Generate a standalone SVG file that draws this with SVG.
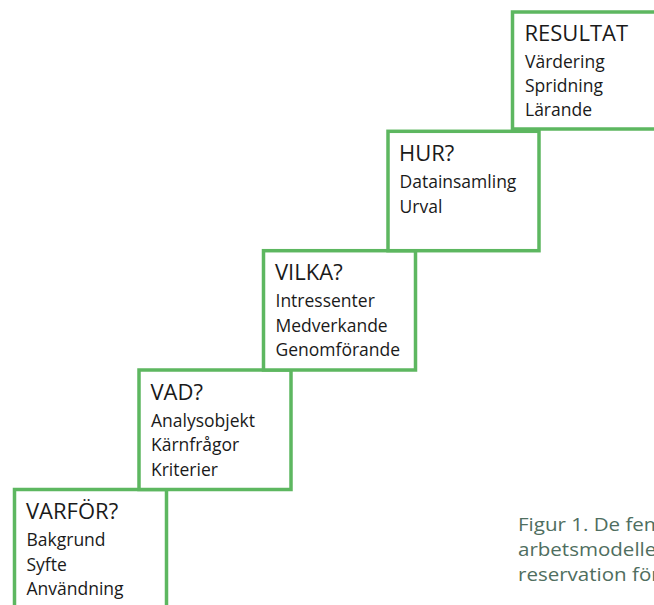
<svg xmlns="http://www.w3.org/2000/svg" width="654" height="605" viewBox="0 0 654 605">
<style>
.box{fill:#ffffff;stroke:#5db760;stroke-width:3.5}
.t{font-family:"Open Sans","Liberation Sans",sans-serif;font-size:22px;fill:#1a1a1a}
.b{font-family:"Open Sans","Liberation Sans",sans-serif;font-size:17.5px;fill:#1a1a1a}
.cap{font-family:"Open Sans","Liberation Sans",sans-serif;font-size:18.5px;fill:#4f6e60}
</style>
<rect width="654" height="605" fill="#ffffff"/>
<g id="varfor">
<rect class="box" x="14.5" y="489.5" width="152" height="140"/>
<text class="t" x="26" y="519">VARFÖR?</text>
<text class="b" x="26.5" y="546">Bakgrund</text>
<text class="b" x="26.5" y="570.5">Syfte</text>
<text class="b" x="26.5" y="595">Användning</text>
</g>
<g id="vad">
<rect class="box" x="139" y="370" width="152" height="119.5"/>
<text class="t" x="150.5" y="399.5">VAD?</text>
<text class="b" x="151" y="426.5">Analysobjekt</text>
<text class="b" x="151" y="451">Kärnfrågor</text>
<text class="b" x="151" y="475.5">Kriterier</text>
</g>
<g id="vilka">
<rect class="box" x="263.5" y="250.7" width="152" height="119.3"/>
<text class="t" x="275" y="280">VILKA?</text>
<text class="b" x="275.5" y="307">Intressenter</text>
<text class="b" x="275.5" y="331.5">Medverkande</text>
<text class="b" x="275.5" y="356">Genomförande</text>
</g>
<g id="hur">
<rect class="box" x="388" y="131.3" width="151" height="119.4"/>
<text class="t" x="399" y="161">HUR?</text>
<text class="b" x="399.5" y="188">Datainsamling</text>
<text class="b" x="399.5" y="212.5">Urval</text>
</g>
<g id="resultat">
<rect class="box" x="512.5" y="12" width="152" height="117"/>
<text class="t" x="524.5" y="41">RESULTAT</text>
<text class="b" x="525" y="68">Värdering</text>
<text class="b" x="525" y="92">Spridning</text>
<text class="b" x="525" y="116">Lärande</text>
</g>
<g id="connectors"></g>
<g id="caption" transform="translate(518 0) scale(1.11 1)">
<text class="cap" x="0" y="531">Figur 1. De fem</text>
<text class="cap" x="0" y="556">arbetsmodellen</text>
<text class="cap" x="0" y="581">reservation för</text>
</g>
</svg>
